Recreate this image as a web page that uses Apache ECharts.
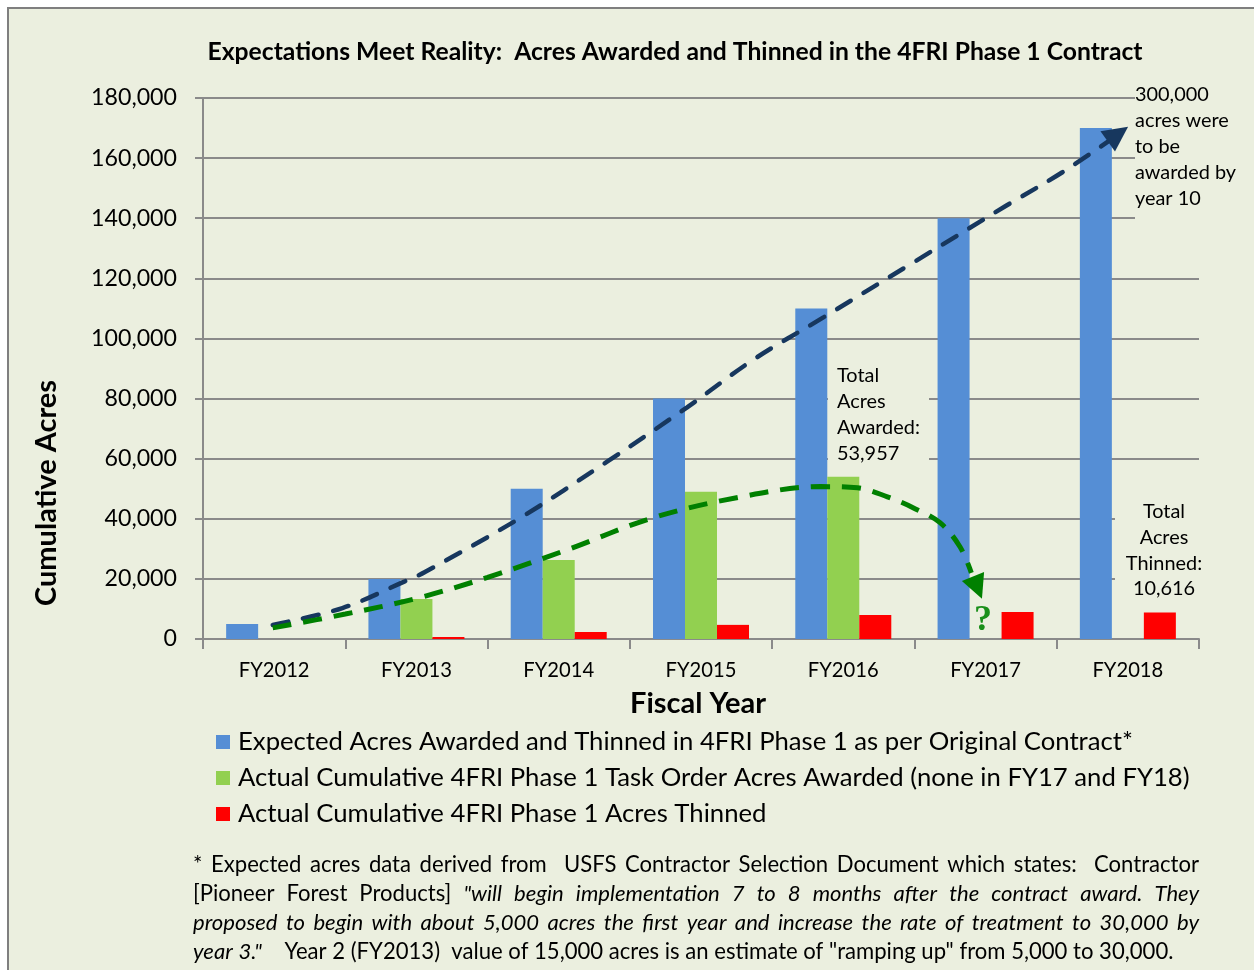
<!DOCTYPE html>
<html><head><meta charset="utf-8">
<script src="https://cdn.jsdelivr.net/npm/echarts@6/dist/echarts.min.js"></script>
<style>html,body{margin:0;padding:0;background:#fff}#c{width:1254px;height:970px}</style>
</head><body><div id="c"></div>
<script>
// ---- data ----
const categories = ['FY2012','FY2013','FY2014','FY2015','FY2016','FY2017','FY2018'];
const expectedAcres = [5000, 20000, 50000, 80000, 110000, 140000, 170000];
const awardedAcres  = [null, 13300, 26300, 49000, 53957, null, null];
const thinnedAcres  = [null, 700, 2300, 4700, 8000, 9000, 8800];
const yTicks = [0, 20000, 40000, 60000, 80000, 100000, 120000, 140000, 160000, 180000];
// annotation trend paths ([category position, acres])
const expectedTrend = [[0.49,4700],[0.98,10300],[1.41,19000],[1.56,22300],[2.23,40300],[2.84,59000],[3.40,77000],[3.87,93000],[4.36,107000],[5.00,125500],[5.65,144300],[6.04,155300],[6.36,165500]];
const expectedArrow = [6.43, 168000];
const actualTrend = [[0.49,3700],[1.0,8300],[1.5,13500],[2.0,20500],[2.56,29700],[3.16,40300],[3.75,47000],[4.34,50700],[4.6,50300],[4.81,47300],[4.99,43700],[5.18,38700],[5.32,30700],[5.40,22000]];
const actualArrow = [5.443, 17100];
const seriesNames = [
  'Expected Acres Awarded and Thinned in 4FRI Phase 1 as per Original Contract*',
  'Actual Cumulative 4FRI Phase 1 Task Order Acres Awarded (none in FY17 and FY18)',
  'Actual Cumulative 4FRI Phase 1 Acres Thinned'
];
const titleText = 'Expectations Meet Reality:  Acres Awarded and Thinned in the 4FRI Phase 1 Contract';
const noteLines = [
  [{t:'* Expected acres data derived from  USFS Contractor Selection Document which states:  Contractor', it:false}],
  [{t:'[Pioneer Forest Products] ', it:false},{t:'"will begin implementation 7 to 8 months after the contract award. They', it:true}],
  [{t:'proposed to begin with about 5,000 acres the first year and increase the rate of treatment to 30,000 by', it:true}],
  [{t:'year 3."', it:true},{t:'    Year 2 (FY2013)  value of 15,000 acres is an estimate of "ramping up" from 5,000 to 30,000.', it:false}]
];

// ---- styles ----
const F = 'Lato';
const BG = '#EBEFDF';
const GRID = '#8A8A8A';
const ctx = document.createElement('canvas').getContext('2d');
function tw(s, size, weight, style){ ctx.font = (style||'normal')+' '+(weight||'normal')+' '+size+'px '+F; return ctx.measureText(s).width; }
function fit(s, target, weight, style){ return Math.round(1000*target/tw(s,100,weight,style))/10; }

const titleSize = fit(titleText, 936, 'bold');
const yLabSize = fit('180,000', 86);
const xLabSize = fit('FY2012', 71);
const axNameSize = fit('Fiscal Year', 136, 'bold');
const legSize = fit(seriesNames[0], 895);
const annSize = fit('Awarded:', 83);

// footnote size from last (unjustified) line
function segW(segs, size){ let w=0; segs.forEach(s=>{ w+=tw(s.t,size,'normal',s.it?'italic':'normal'); }); return w; }
const noteSize = Math.round(10*20*981/segW(noteLines[3],20))/10;

const graphics = [];
// white margin + frame
graphics.push({type:'rect', shape:{x:0,y:0,width:1254,height:7}, style:{fill:'#fff'}, z:-5});
graphics.push({type:'rect', shape:{x:0,y:0,width:7,height:970}, style:{fill:'#fff'}, z:-5});
graphics.push({type:'polyline', shape:{points:[[8,970],[8,8],[1254,8]]}, style:{stroke:'#7F7F7F', lineWidth:2, fill:null}, z:-4});
// title & axis names
graphics.push({type:'text', x:675, y:52, style:{text:titleText, fontFamily:F, fontWeight:'bold', fontSize:titleSize, fill:'#000', align:'center', verticalAlign:'middle'}, z:10});
graphics.push({type:'text', x:698, y:704, style:{text:'Fiscal Year', fontFamily:F, fontWeight:'bold', fontSize:axNameSize, fill:'#000', align:'center', verticalAlign:'middle'}, z:10});
graphics.push({type:'text', x:47, y:493, rotation:Math.PI/2, style:{text:'Cumulative Acres', fontFamily:F, fontWeight:'bold', fontSize:axNameSize, fill:'#000', align:'center', verticalAlign:'middle'}, z:10});
// annotation boxes (cover grid lines)
graphics.push({type:'rect', shape:{x:828,y:358,width:101,height:110}, style:{fill:BG}, z:1});
graphics.push({type:'text', x:837, y:363, style:{text:'Total\nAcres\nAwarded:\n53,957', fontFamily:F, fontSize:annSize, lineHeight:26, fill:'#000', align:'left', verticalAlign:'top'}, z:10});
graphics.push({type:'rect', shape:{x:1115,y:494,width:100,height:110}, style:{fill:BG}, z:1});
graphics.push({type:'text', x:1164, y:499, style:{text:'Total\nAcres\nThinned:\n10,616', fontFamily:F, fontSize:annSize, lineHeight:25.7, fill:'#000', align:'center', verticalAlign:'top'}, z:10});
graphics.push({type:'rect', shape:{x:1135,y:84,width:119,height:137}, style:{fill:BG}, z:1});
graphics.push({type:'text', x:1135, y:82, style:{text:'300,000\nacres were\nto be\nawarded by\nyear 10', fontFamily:F, fontSize:annSize, lineHeight:26, fill:'#000', align:'left', verticalAlign:'top'}, z:10});
graphics.push({type:'text', x:983, y:621, style:{text:'?', fontFamily:'Liberation Serif', fontWeight:'bold', fontSize:36, fill:'#1A8F1A', align:'center', verticalAlign:'middle'}, z:10});

// footnote with justification
const noteX0 = 193, noteX1 = 1199, noteY = [865, 894, 923, 952];
noteLines.forEach((segs, li) => {
  const toks = [];
  segs.forEach(s => {
    s.t.split(/( +)/).forEach(p => {
      if (!p) return;
      if (/^ +$/.test(p)) toks.push({gap:p.length});
      else toks.push({w:p, it:s.it});
    });
  });
  let wordsW = 0, gapUnits = 0;
  toks.forEach((t,i) => {
    if (t.w) { t.width = tw(t.w, noteSize, 'normal', t.it?'italic':'normal'); wordsW += t.width; }
    else if (i>0 && i<toks.length-1) gapUnits += t.gap;
  });
  const justify = li < noteLines.length-1;
  const unit = justify ? (noteX1-noteX0-wordsW)/gapUnits : tw(' ', noteSize);
  let x = noteX0;
  toks.forEach((t,i) => {
    if (t.w) {
      graphics.push({type:'text', x:x, y:noteY[li], style:{text:t.w, fontFamily:F, fontSize:noteSize, fontStyle:t.it?'italic':'normal', fill:'#000', align:'left', verticalAlign:'middle'}, z:10});
      x += t.width;
    } else if (i>0) x += unit*t.gap;
  });
});

const chart = echarts.init(document.getElementById('c'), null, {renderer:'canvas'});
chart.setOption({
  backgroundColor: BG,
  animation: false,
  grid: {left:203, right:55, top:98, bottom:331, containLabel:false},
  legend: {
    data: seriesNames, orient:'vertical', left:216, top:729, padding:0,
    itemWidth:14, itemHeight:14, itemGap:10, icon:'rect',
    textStyle:{fontFamily:F, fontSize:legSize, lineHeight:24, color:'#000', padding:[0,0,0,3]}
  },
  xAxis: [{
    type:'category', data:categories, boundaryGap:true,
    axisLine:{lineStyle:{color:GRID, width:2}},
    axisTick:{show:true, length:10, lineStyle:{color:GRID, width:2}},
    axisLabel:{fontFamily:F, fontSize:xLabSize, color:'#000', margin:21}
  },{
    type:'value', min:0, max:7, show:false
  }],
  yAxis: {
    type:'value', min:0, max:180000, interval:20000,
    axisLine:{show:true, lineStyle:{color:GRID, width:2}},
    axisTick:{show:true, length:8, lineStyle:{color:GRID, width:2}},
    splitLine:{lineStyle:{color:GRID, width:2}},
    axisLabel:{fontFamily:F, fontSize:yLabSize, color:'#000', margin:26,
      formatter: v => yTicks.indexOf(v) >= 0 ? v.toLocaleString('en-US') : ''}
  },
  series: [
    {name:seriesNames[0], type:'bar', data:expectedAcres, barWidth:32, barGap:'0%', itemStyle:{color:'#558ED5'}},
    {name:seriesNames[1], type:'bar', data:awardedAcres, barWidth:32, barGap:'0%', itemStyle:{color:'#92D050'}},
    {name:seriesNames[2], type:'bar', data:thinnedAcres, barWidth:32, barGap:'0%', itemStyle:{color:'#FF0000'}},
    {name:'expTrend', type:'line', xAxisIndex:1, data:expectedTrend, smooth:0.35, symbol:'none', z:5,
      lineStyle:{color:'#17375E', width:4.5, type:[16,15], cap:'round'}},
    {name:'actTrend', type:'line', xAxisIndex:1, data:actualTrend, smooth:0.35, symbol:'none', z:5,
      lineStyle:{color:'#008000', width:5, type:[19,12], cap:'butt'}},
    {name:'expArrow', type:'scatter', xAxisIndex:1, z:6, symbol:'triangle', symbolSize:[25,25],
      data:[{value:expectedArrow, symbolRotate:-54.5}], itemStyle:{color:'#17375E', opacity:1}},
    {name:'actArrow', type:'scatter', xAxisIndex:1, z:6, symbol:'triangle', symbolSize:[24,24],
      data:[{value:actualArrow, symbolRotate:-158}], itemStyle:{color:'#008000', opacity:1}}
  ],
  graphic: {elements: graphics}
});
</script></body></html>
